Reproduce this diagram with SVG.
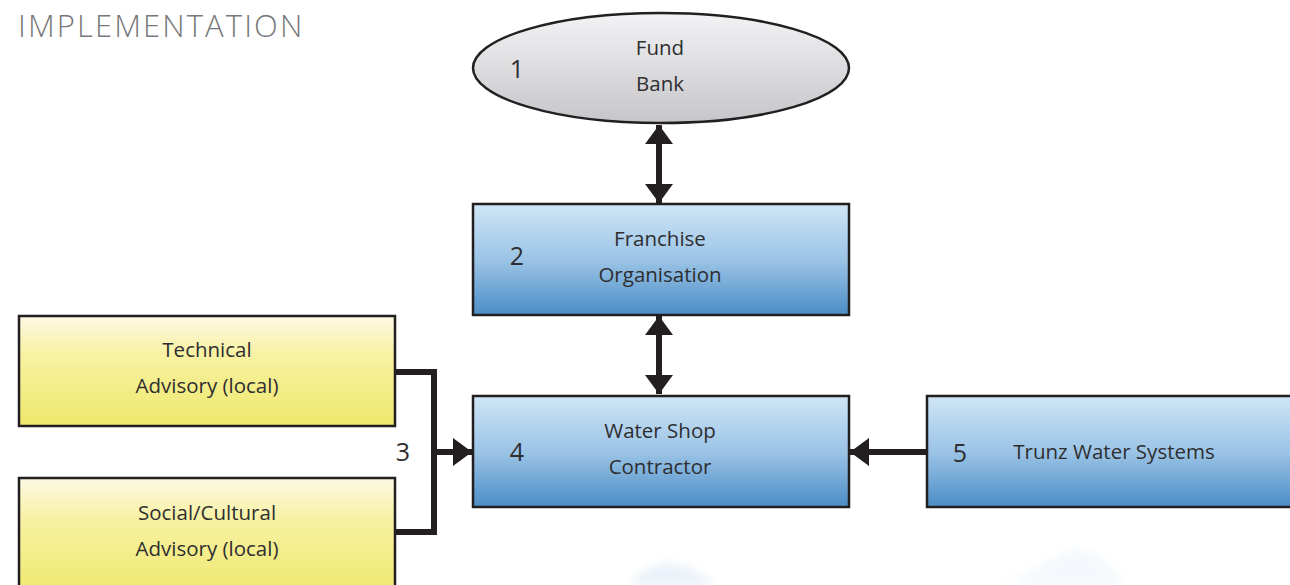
<svg xmlns="http://www.w3.org/2000/svg" width="1290" height="585" viewBox="0 0 1290 585">
  <style>
    .title { font-family: "Open Sans", "Noto Sans", sans-serif; font-weight: 300; font-size: 31px; fill: #77787b; letter-spacing: 2.1px; }
    .lbl { font-family: "Open Sans", "Noto Sans", sans-serif; font-size: 20.5px; fill: #2e2e30; text-anchor: middle; dominant-baseline: central; }
    .num { font-family: "Open Sans", "Noto Sans", sans-serif; font-size: 25px; fill: #2e2e30; text-anchor: middle; dominant-baseline: central; }
    .box { stroke: #231f20; stroke-width: 2.5; }
    .blue { fill: url(#gBlue); }
    .yellow { fill: url(#gYellow); }
    .link { stroke: #231f20; stroke-width: 6; fill: none; }
  </style>
  <defs>
    <linearGradient id="gBlue" x1="0" y1="0" x2="0" y2="1">
      <stop offset="0" stop-color="#cfe6f7"/>
      <stop offset="0.5" stop-color="#9cc4e6"/>
      <stop offset="1" stop-color="#4b8dc6"/>
    </linearGradient>
    <linearGradient id="gYellow" x1="0" y1="0" x2="0" y2="1">
      <stop offset="0" stop-color="#fdf9e4"/>
      <stop offset="0.35" stop-color="#f8f1a2"/>
      <stop offset="1" stop-color="#eee86c"/>
    </linearGradient>
    <linearGradient id="gGray" x1="0" y1="0" x2="0" y2="1">
      <stop offset="0" stop-color="#f3f3f5"/>
      <stop offset="1" stop-color="#c6c6ca"/>
    </linearGradient>
    <marker id="head" viewBox="0 0 19 28" refX="19" refY="14" markerWidth="19" markerHeight="28" orient="auto-start-reverse" markerUnits="userSpaceOnUse">
      <path d="M0,0 L19,14 L0,28 Z" fill="#231f20"/>
    </marker>
    <filter id="soft" x="-20%" y="-20%" width="140%" height="140%">
      <feGaussianBlur stdDeviation="5"/>
    </filter>
  </defs>

  <rect width="1290" height="585" fill="#ffffff"/>

  <!-- faint background artwork along the bottom edge -->
  <g opacity="0.14" filter="url(#soft)">
    <path d="M628,585 L645,570 L665,563 L690,568 L710,580 L716,585 Z" fill="#6fa3d6"/>
    <path d="M1005,585 L1045,562 L1075,548 L1100,556 L1125,585 Z" fill="#b9d5ef"/>
  </g>

  <text class="title" x="18" y="37">IMPLEMENTATION</text>

  <!-- connectors -->
  <g id="connectors">
    <line class="link" x1="659" y1="125" x2="659" y2="203" marker-start="url(#head)" marker-end="url(#head)"/>
    <line class="link" x1="659" y1="316" x2="659" y2="394" marker-start="url(#head)" marker-end="url(#head)"/>
    <line class="link" x1="927" y1="452" x2="850" y2="452" marker-end="url(#head)"/>
    <polyline class="link" points="396,372 434,372 434,532 396,532"/>
    <line class="link" x1="434" y1="452" x2="472" y2="452" marker-end="url(#head)"/>
  </g>

  <g id="node1">
    <ellipse class="box" cx="661" cy="68" rx="188" ry="55" fill="url(#gGray)"/>
    <text class="num" x="517" y="68">1</text>
    <text class="lbl" x="660" y="47">Fund</text>
    <text class="lbl" x="660" y="83">Bank</text>
  </g>

  <g id="node2">
    <rect class="box blue" x="473" y="204" width="376" height="111"/>
    <text class="num" x="517" y="255">2</text>
    <text class="lbl" x="660" y="238">Franchise</text>
    <text class="lbl" x="660" y="274">Organisation</text>
  </g>

  <g id="node4">
    <rect class="box blue" x="473" y="396" width="376" height="111"/>
    <text class="num" x="517" y="451">4</text>
    <text class="lbl" x="660" y="430">Water Shop</text>
    <text class="lbl" x="660" y="466">Contractor</text>
  </g>

  <g id="node5">
    <rect class="box blue" x="927" y="396" width="376" height="111"/>
    <text class="num" x="960" y="452">5</text>
    <text class="lbl" x="1114" y="451">Trunz Water Systems</text>
  </g>

  <g id="nodeTech">
    <rect class="box yellow" x="19" y="316" width="376" height="110"/>
    <text class="lbl" x="207" y="349">Technical</text>
    <text class="lbl" x="207" y="385">Advisory (local)</text>
  </g>

  <g id="nodeSocial">
    <rect class="box yellow" x="19" y="478" width="376" height="120"/>
    <text class="lbl" x="207" y="512">Social/Cultural</text>
    <text class="lbl" x="207" y="548">Advisory (local)</text>
  </g>

  <g id="label3">
    <text class="num" x="403" y="451">3</text>
  </g>
</svg>
